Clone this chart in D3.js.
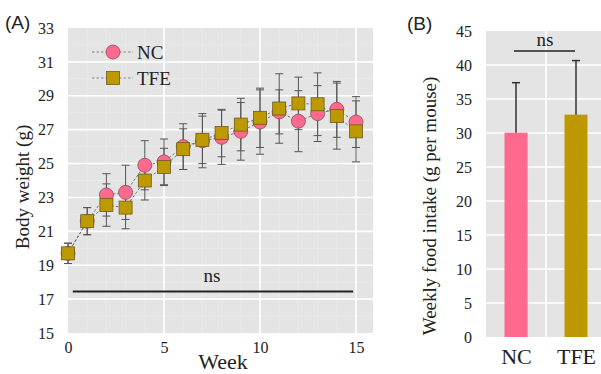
<!DOCTYPE html>
<html>
<head>
<meta charset="utf-8">
<script src="https://cdn.jsdelivr.net/npm/d3@7"></script>
<style>
  body { margin: 0; background: #fff; }
  svg text { font-family: "Liberation Serif", "DejaVu Serif", serif; fill: #222; }
  svg text.tag { font-family: "Liberation Sans", Arial, sans-serif; }
</style>
</head>
<body>
<div id="chart"></div>
<script>
// weekly body weight (panel A)
const weeks = d3.range(0, 16);
const ncMean = [19.7, 21.6, 23.15, 23.3, 24.9, 25.1, 26.0, 26.35, 26.55, 26.9, 27.45, 28.05, 27.5, 27.95, 28.2, 27.45];
const ncErr  = [0.6, 0.8, 1.25, 1.6, 1.45, 1.35, 1.35, 1.6, 1.6, 1.7, 1.9, 1.3, 1.8, 1.65, 1.65, 1.5];
const tfeMean = [19.7, 21.6, 22.55, 22.4, 24.0, 24.8, 25.85, 26.4, 26.8, 27.3, 27.7, 28.25, 28.55, 28.5, 27.8, 26.9];
const tfeErr  = [0.6, 0.8, 1.25, 1.25, 1.15, 1.1, 1.2, 1.4, 1.4, 1.55, 1.75, 2.05, 1.55, 1.85, 1.95, 1.8];
const yTicksA = [15, 17, 19, 21, 23, 25, 27, 29, 31, 33];
const xTicksA = [0, 5, 10, 15];

// weekly food intake (panel B)
const groups = ["NC", "TFE"];
const intakeMean = [30.05, 32.7];
const intakeErr  = [7.35, 7.95];
const yTicksB = [0, 5, 10, 15, 20, 25, 30, 35, 40, 45];

const colors = { NC: "#fe6a8e", TFE: "#bd9900" };
const bg = "#e4e4e4";
const serif = "'Liberation Serif', 'DejaVu Serif', serif";

const svg = d3.select("#chart").append("svg")
    .attr("width", 601)
    .attr("height", 374);

// ---------- panel A ----------
const xA = d3.scaleLinear().domain([0, 15]).range([68, 356]);
const yA = d3.scaleLinear().domain([15, 33]).range([333, 28]);

const gA = svg.append("g");
gA.append("rect")
    .attr("x", 68).attr("y", 28)
    .attr("width", 305).attr("height", 305)
    .attr("fill", bg);

// minor grid
gA.selectAll(".minorx").data(d3.range(1, 16).filter(d => d % 5 !== 0))
  .join("line")
    .attr("x1", d => xA(d)).attr("x2", d => xA(d))
    .attr("y1", 28).attr("y2", 333)
    .attr("stroke", "#ececec").attr("stroke-width", 0.7);
gA.selectAll(".minory").data(d3.range(16, 33, 2))
  .join("line")
    .attr("x1", 68).attr("x2", 373)
    .attr("y1", d => yA(d)).attr("y2", d => yA(d))
    .attr("stroke", "#ececec").attr("stroke-width", 0.7);

// major grid
gA.selectAll(".gx").data(xTicksA.filter(d => d > 0))
  .join("line")
    .attr("x1", d => xA(d)).attr("x2", d => xA(d))
    .attr("y1", 28).attr("y2", 333)
    .attr("stroke", "#fff").attr("stroke-width", 1.6);
gA.selectAll(".gy").data(yTicksA.filter(d => d > 15 && d < 33))
  .join("line")
    .attr("x1", 68).attr("x2", 373)
    .attr("y1", d => yA(d)).attr("y2", d => yA(d))
    .attr("stroke", "#fff").attr("stroke-width", 1.6);

// axes
const axA_y = gA.append("g")
    .attr("transform", "translate(54,0)")
    .call(d3.axisLeft(yA).tickValues(yTicksA).tickSize(0).tickPadding(0));
const axA_x = gA.append("g")
    .attr("transform", "translate(0,340)")
    .call(d3.axisBottom(xA).tickValues(xTicksA).tickSize(0).tickPadding(0));
[axA_y, axA_x].forEach(a => {
  a.attr("font-family", serif).attr("font-size", 16);
  a.select(".domain").remove();
  a.selectAll("text").attr("fill", "#333");
});
axA_x.selectAll("text").attr("dy", "0.8em");

gA.append("text")
    .attr("transform", "translate(29,187) rotate(-90)")
    .attr("text-anchor", "middle")
    .style("font-size", "19px")
    .text("Body weight (g)");
gA.append("text")
    .attr("x", 223).attr("y", 369)
    .attr("text-anchor", "middle")
    .style("font-size", "22px")
    .text("Week");

// ns line
gA.append("line")
    .attr("x1", xA(0.25)).attr("x2", xA(14.85))
    .attr("y1", yA(17.45)).attr("y2", yA(17.45))
    .attr("stroke", "#222").attr("stroke-width", 2.2);
gA.append("text")
    .attr("x", xA(7.5)).attr("y", yA(17.45) - 9)
    .attr("text-anchor", "middle")
    .style("font-size", "19px")
    .text("ns");

const series = [
  { name: "NC", mean: ncMean, err: ncErr, shape: "circle" },
  { name: "TFE", mean: tfeMean, err: tfeErr, shape: "square" }
];

// error bars
series.forEach(s => {
  const eb = gA.append("g").attr("stroke", "#555").attr("stroke-width", 1);
  weeks.forEach((w, i) => {
    const x = xA(w), lo = yA(s.mean[i] - s.err[i]), hi = yA(s.mean[i] + s.err[i]);
    eb.append("line").attr("x1", x).attr("x2", x).attr("y1", lo).attr("y2", hi);
    eb.append("line").attr("x1", x - 4).attr("x2", x + 4).attr("y1", lo).attr("y2", lo);
    eb.append("line").attr("x1", x - 4).attr("x2", x + 4).attr("y1", hi).attr("y2", hi);
  });
});

// dashed connecting lines
const lineA = d3.line().x((d, i) => xA(weeks[i])).y(d => yA(d));
series.forEach(s => {
  gA.append("path")
      .attr("d", lineA(s.mean))
      .attr("fill", "none")
      .attr("stroke", "#666")
      .attr("stroke-width", 0.9)
      .attr("stroke-dasharray", "2.5,2");
});

// markers
function drawMarker(g, shape, x, y, fill) {
  if (shape === "circle") {
    g.append("circle").attr("cx", x).attr("cy", y).attr("r", 7)
        .attr("fill", fill).attr("stroke", "#8a4a5a").attr("stroke-width", 0.8);
  } else {
    g.append("rect").attr("x", x - 6.5).attr("y", y - 6.5).attr("width", 13).attr("height", 13)
        .attr("fill", fill).attr("stroke", "#6e5a20").attr("stroke-width", 0.8);
  }
}
series.forEach(s => {
  const mg = gA.append("g");
  weeks.forEach((w, i) => drawMarker(mg, s.shape, xA(w), yA(s.mean[i]), colors[s.name]));
});

// legend
series.forEach((s, i) => {
  const ly = 52 + i * 26;
  gA.append("line")
      .attr("x1", 92).attr("x2", 133).attr("y1", ly).attr("y2", ly)
      .attr("stroke", "#777").attr("stroke-width", 0.9).attr("stroke-dasharray", "2.5,2");
  drawMarker(gA, s.shape, 113, ly, colors[s.name]);
  gA.append("text")
      .attr("x", 137).attr("y", ly + 6.5)
      .style("font-size", "19px")
      .text(s.name);
});

svg.append("text").attr("class", "tag")
    .attr("x", 5).attr("y", 29)
    .style("font-size", "19px")
    .text("(A)");

// ---------- panel B ----------
const xB = d3.scalePoint().domain(groups).range([516, 576]);
const yB = d3.scaleLinear().domain([0, 45]).range([337, 31]);
const barW = 23;

const gB = svg.append("g");
gB.append("rect")
    .attr("x", 486).attr("y", 31)
    .attr("width", 120).attr("height", 306)
    .attr("fill", bg);
gB.selectAll(".gy").data(yTicksB.filter(d => d > 0 && d < 45))
  .join("line")
    .attr("x1", 486).attr("x2", 606)
    .attr("y1", d => yB(d)).attr("y2", d => yB(d))
    .attr("stroke", "#fff").attr("stroke-width", 1.6);
gB.append("line")
    .attr("x1", 546).attr("x2", 546).attr("y1", 31).attr("y2", 337)
    .attr("stroke", "#fff").attr("stroke-width", 1.6);

gB.selectAll(".bar").data(groups)
  .join("rect")
    .attr("x", d => xB(d) - barW / 2)
    .attr("y", (d, i) => yB(intakeMean[i]))
    .attr("width", barW)
    .attr("height", (d, i) => yB(0) - yB(intakeMean[i]))
    .attr("fill", d => colors[d]);

groups.forEach((gname, i) => {
  const x = xB(gname), top = yB(intakeMean[i] + intakeErr[i]);
  gB.append("line").attr("x1", x).attr("x2", x).attr("y1", yB(intakeMean[i])).attr("y2", top)
      .attr("stroke", "#333").attr("stroke-width", 1.5);
  gB.append("line").attr("x1", x - 4).attr("x2", x + 4).attr("y1", top).attr("y2", top)
      .attr("stroke", "#333").attr("stroke-width", 1.5);
});

const axB_y = gB.append("g")
    .attr("transform", "translate(472,0)")
    .call(d3.axisLeft(yB).tickValues(yTicksB).tickSize(0).tickPadding(0));
const axB_x = gB.append("g")
    .attr("transform", "translate(0,346)")
    .call(d3.axisBottom(xB).tickSize(0).tickPadding(0));
[axB_y, axB_x].forEach(a => {
  a.attr("font-family", serif);
  a.select(".domain").remove();
  a.selectAll("text").attr("fill", "#333");
});
axB_y.attr("font-size", 16);
axB_x.attr("font-size", 22);
axB_x.selectAll("text").attr("dy", "0.8em");

gB.append("text")
    .attr("transform", "translate(436,206) rotate(-90)")
    .attr("text-anchor", "middle")
    .style("font-size", "19px")
    .text("Weekly food intake (g per mouse)");

// ns bracket
gB.append("line")
    .attr("x1", 514).attr("x2", 575).attr("y1", 51).attr("y2", 51)
    .attr("stroke", "#222").attr("stroke-width", 1.5);
gB.append("text")
    .attr("x", 545).attr("y", 46)
    .attr("text-anchor", "middle")
    .style("font-size", "19px")
    .text("ns");

svg.append("text").attr("class", "tag")
    .attr("x", 407).attr("y", 30)
    .style("font-size", "19px")
    .text("(B)");
</script>
</body>
</html>
